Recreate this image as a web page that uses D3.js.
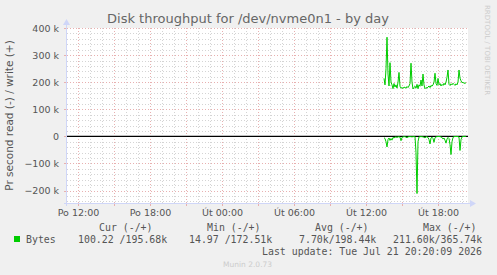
<!DOCTYPE html>
<html>
<head>
  <title>Disk throughput</title>
  <script src="https://d3js.org/d3.v7.min.js"></script>
  <style>
    body { margin: 0; background: #f0f0f0; }
    text { font-family: "DejaVu Sans", sans-serif; }
    .mono { font-family: "DejaVu Sans Mono", monospace; font-size: 9.9px; fill: #555; }
  </style>
</head>
<body>
<svg id="chart"></svg>
<script>
// write (+) and read (-) bytes per second, in k, one sample every 5 minutes
const sampleStart = new Date(2026, 6, 21, 13, 30);
const writeK = [214, 190, 250, 366, 230, 186, 272, 200, 190, 176,
  195, 182, 190, 178, 200, 236, 185, 178, 180, 177,
  182, 180, 178, 184, 180, 186, 195, 270, 200, 175,
  180, 185, 178, 192, 176, 190, 185, 208, 186, 230,
  190, 176, 180, 178, 182, 186, 180, 188, 185, 190,
  200, 233, 195, 188, 214, 190, 195, 186, 192, 188,
  196, 190, 200, 218, 245, 192, 188, 194, 190, 196,
  192, 188, 194, 190, 200, 245, 215, 205, 198, 200,
  195, 198, 196];
const readK = [5, 8, 20, 39, 12, 6, 15, 8, 14, 4,
  6, 3, 2, 4, 2, 1, 3, 16, 4, 2,
  1, 1, 3, 5, 2, 1, 1, 1, 2, 1,
  1, 1, 60, 211, 20, 2, 1, 1, 1, 2,
  3, 6, 1, 2, 4, 12, 28, 6, 3, 8,
  22, 5, 2, 1, 0.5, 0.5, 1, 2, 4, 10,
  6, 14, 25, 10, 4, 8, 30, 67, 20, 4,
  1, 0.5, 0.5, 0.3, 1, 3, 52, 12, 2, 0.5,
  0.2, 0.1, 0.1];

const yTicks = [-200000, -100000, 0, 100000, 200000, 300000, 400000];
const xTicks = [new Date(2026, 6, 20, 12), new Date(2026, 6, 20, 18), new Date(2026, 6, 21, 0),
  new Date(2026, 6, 21, 6), new Date(2026, 6, 21, 12), new Date(2026, 6, 21, 18)];
const dayNames = ["Ne", "Po", "Út", "St", "Čt", "Pá", "So"];

const legendHeads = ["Cur (-/+)", "Min (-/+)", "Avg (-/+)", "Max (-/+)"];
const legendVals = ["100.22 /195.68k", "14.97 /172.51k", "7.70k/198.44k", "211.60k/365.74k"];

const W = 497, H = 275;
const pLeft = 67, pRight = 467, pTop = 28, pBottom = 203;

const svg = d3.select("#chart").attr("width", W).attr("height", H);
svg.append("rect").attr("width", W).attr("height", H).attr("fill", "#f0f0f0");

const x = d3.scaleTime()
  .domain([new Date(2026, 6, 20, 11, 5), new Date(2026, 6, 21, 20, 25)])
  .range([pLeft, pRight]);
const y = d3.scaleLinear().domain([-246000, 400000]).range([pBottom, pTop]);

svg.append("rect").attr("x", pLeft).attr("y", pTop)
  .attr("width", pRight - pLeft + 1).attr("height", pBottom - pTop).attr("fill", "#fff");

// minor grid
const hours = d3.timeHour.range(x.domain()[0], x.domain()[1]);
svg.append("g").selectAll("line").data(hours).enter().append("line")
  .attr("x1", d => Math.round(x(d)) + 0.5).attr("x2", d => Math.round(x(d)) + 0.5)
  .attr("y1", pTop).attr("y2", pBottom)
  .attr("stroke", d => d.getHours() % 3 === 0 ? "#e8b0b0" : "#d4d4d4")
  .attr("stroke-dasharray", "1,2");
const minorY = d3.range(-240000, 400001, 20000);
svg.append("g").selectAll("line").data(minorY).enter().append("line")
  .attr("x1", pLeft).attr("x2", pRight)
  .attr("y1", d => Math.round(y(d)) + 0.5).attr("y2", d => Math.round(y(d)) + 0.5)
  .attr("stroke", d => d % 100000 === 0 ? "#e8b0b0" : "#d4d4d4")
  .attr("stroke-dasharray", "1,2");

// major ticks sticking out of the canvas
svg.append("g").selectAll("line").data(hours.filter(d => d.getHours() % 3 === 0)).enter().append("line")
  .attr("x1", d => Math.round(x(d)) + 0.5).attr("x2", d => Math.round(x(d)) + 0.5)
  .attr("y1", pBottom).attr("y2", pBottom + 3).attr("stroke", "#e8b0b0");
svg.append("g").selectAll("line").data(yTicks).enter().append("line")
  .attr("x1", pLeft - 3).attr("x2", pLeft)
  .attr("y1", d => Math.round(y(d)) + 0.5).attr("y2", d => Math.round(y(d)) + 0.5)
  .attr("stroke", "#e8b0b0");

// axes
const axisCol = "#cfd6f8";
svg.append("line").attr("x1", pLeft - 0.5).attr("x2", pLeft - 0.5).attr("y1", pBottom + 3).attr("y2", pTop - 6)
  .attr("stroke", axisCol);
svg.append("path").attr("d", `M${pLeft - 4},${pTop - 3} L${pLeft - 0.5},${pTop - 9} L${pLeft + 3},${pTop - 3}Z`).attr("fill", axisCol);
svg.append("line").attr("x1", pLeft - 3).attr("x2", pRight + 5).attr("y1", pBottom + 0.5).attr("y2", pBottom + 0.5)
  .attr("stroke", axisCol);
svg.append("path").attr("d", `M${pRight + 3},${pBottom - 3} L${pRight + 9},${pBottom + 0.5} L${pRight + 3},${pBottom + 4}Z`).attr("fill", axisCol);

// zero line
svg.append("line").attr("x1", pLeft).attr("x2", pRight + 1)
  .attr("y1", y(0)).attr("y2", y(0)).attr("stroke", "#000").attr("stroke-width", 1.2);

// series
const t = i => new Date(sampleStart.getTime() + i * 300000);
const line = d3.line().x(d => x(d[0])).y(d => y(d[1]));
svg.append("path").datum(writeK.map((v, i) => [t(i), v * 1000]))
  .attr("d", line).attr("fill", "none").attr("stroke", "#00cc00").attr("stroke-width", 1);
svg.append("path").datum(readK.map((v, i) => [t(i), -v * 1000]))
  .attr("d", line).attr("fill", "none").attr("stroke", "#00cc00").attr("stroke-width", 1);

// labels
svg.append("text").attr("x", 248).attr("y", 23).attr("text-anchor", "middle")
  .attr("font-size", 13).attr("fill", "#666").text("Disk throughput for /dev/nvme0n1 - by day");
svg.append("g").selectAll("text").data(yTicks).enter().append("text")
  .attr("x", 59).attr("y", d => y(d) + 3.5).attr("text-anchor", "end")
  .attr("font-size", 9.5).attr("fill", "#555")
  .text(d => d === 0 ? "0" : d3.format("d")(d / 1000) + " k");
svg.append("g").selectAll("text").data(xTicks).enter().append("text")
  .attr("x", d => x(d) + 0.5).attr("y", 216).attr("text-anchor", "middle")
  .attr("font-size", 9.5).attr("fill", "#555")
  .text(d => dayNames[d.getDay()] + " " + d3.timeFormat("%H:%M")(d));
svg.append("text").attr("transform", "translate(13," + (pTop + pBottom) / 2 + ") rotate(-90)")
  .attr("text-anchor", "middle").attr("font-size", 10.5).attr("fill", "#555")
  .text("Pr second read (-) / write (+)");
svg.append("text").attr("transform", "translate(485,5) rotate(90)")
  .attr("font-size", 7).attr("fill", "#ccc").text("RRDTOOL / TOBI OETIKER");

// legend
const headX = [99, 207, 315, 423];
const valX = [78, 189, 299, 393];
svg.append("g").selectAll("text").data(legendHeads).enter().append("text")
  .attr("class", "mono").attr("x", (d, i) => headX[i]).attr("y", 231).text(d => d);
svg.append("rect").attr("x", 14).attr("y", 236).attr("width", 6).attr("height", 6).attr("fill", "#00cc00");
svg.append("text").attr("class", "mono").attr("x", 26).attr("y", 243).text("Bytes");
svg.append("g").selectAll("text").data(legendVals).enter().append("text")
  .attr("class", "mono").attr("x", (d, i) => valX[i]).attr("y", 243).text(d => d);
svg.append("text").attr("class", "mono").attr("x", 482).attr("y", 255).attr("text-anchor", "end")
  .text("Last update: Tue Jul 21 20:20:09 2026");
svg.append("text").attr("x", 223).attr("y", 267).attr("font-size", 7.5).attr("fill", "#ccc").text("Munin 2.0.73");
</script>
</body>
</html>
